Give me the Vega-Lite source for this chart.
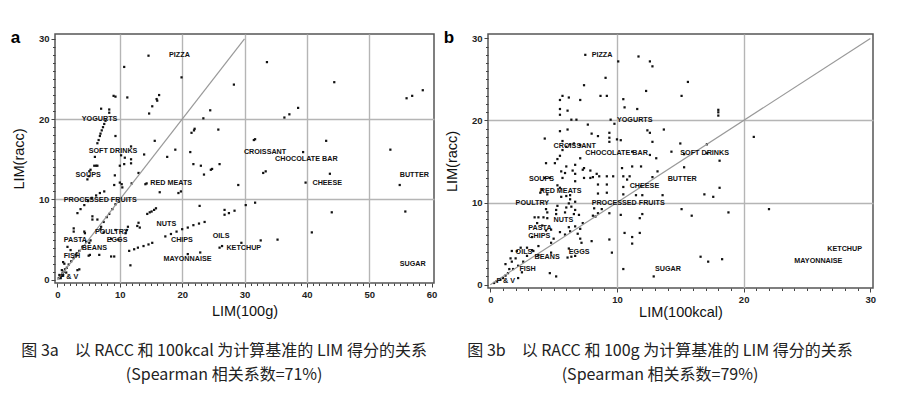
{
  "$schema": "https://vega.github.io/schema/vega-lite/v6.json",
  "background": "white",
  "padding": {"left": 10, "top": 28, "right": 0, "bottom": 0},
  "spacing": 5,
  "datasets": {
    "pa": [
      {"x":14.6,"y":27.9},{"x":10.7,"y":26.5},{"x":19.9,"y":25.2},{"x":33.6,"y":27.1},{"x":28.3,"y":24.3},{"x":44.4,"y":24.6},{"x":56.0,"y":22.6},{"x":56.9,"y":22.9},{"x":58.6,"y":23.6},
      {"x":9.0,"y":22.9},{"x":9.3,"y":22.8},{"x":11.2,"y":22.7},{"x":16.3,"y":23.0},{"x":15.9,"y":22.5},{"x":16.0,"y":22.3},{"x":15.2,"y":21.6},{"x":14.7,"y":20.7},
      {"x":7.0,"y":21.3},{"x":8.3,"y":21.2},{"x":8.3,"y":20.8},{"x":24.5,"y":21.1},{"x":23.4,"y":20.1},{"x":36.4,"y":20.2},{"x":37.2,"y":20.6},{"x":38.6,"y":21.4},
      {"x":9.3,"y":17.9},{"x":15.6,"y":17.3},{"x":17.6,"y":15.3},{"x":18.9,"y":16.2},{"x":21.5,"y":18.3},{"x":21.9,"y":18.6},{"x":22.0,"y":18.8},{"x":25.8,"y":18.7},
      {"x":21.3,"y":15.9},{"x":21.8,"y":14.4},{"x":23.0,"y":14.2},{"x":23.5,"y":13.1},{"x":24.6,"y":13.7},{"x":24.8,"y":13.8},{"x":26.0,"y":14.4},{"x":29.0,"y":11.8},
      {"x":30.2,"y":9.3},{"x":31.7,"y":9.6},{"x":31.5,"y":17.4},{"x":31.7,"y":17.5},{"x":33.0,"y":13.3},{"x":33.4,"y":13.5},{"x":39.4,"y":15.9},{"x":39.8,"y":12.1},
      {"x":43.1,"y":17.3},{"x":43.7,"y":13.2},{"x":44.0,"y":8.4},{"x":40.8,"y":5.9},{"x":35.3,"y":5.0},{"x":32.6,"y":4.9},{"x":29.5,"y":4.6},{"x":53.4,"y":16.2},
      {"x":54.9,"y":11.8},{"x":55.8,"y":8.5},{"x":28.4,"y":8.6},{"x":27.5,"y":8.3},{"x":26.8,"y":8.1},{"x":26.8,"y":8.7},{"x":26.0,"y":4.0},{"x":26.4,"y":4.2},
      {"x":22.9,"y":3.4},{"x":20.9,"y":3.2},{"x":22.8,"y":9.2},{"x":19.4,"y":10.8},{"x":19.8,"y":11.0},{"x":16.4,"y":10.9},{"x":14.3,"y":12.0},{"x":14.1,"y":11.9},
      {"x":13.9,"y":15.6},{"x":11.8,"y":16.6},{"x":11.8,"y":15.0},{"x":11.8,"y":14.5},{"x":10.2,"y":15.5},{"x":10.8,"y":15.2},{"x":10.0,"y":14.2},{"x":10.7,"y":14.4},
      {"x":13.0,"y":13.3},{"x":11.9,"y":12.0},{"x":9.2,"y":13.0},{"x":10.0,"y":12.1},{"x":10.3,"y":11.9},{"x":9.1,"y":11.8},{"x":10.4,"y":11.5},
      {"x":17.3,"y":5.4},{"x":18.2,"y":5.7},{"x":19.1,"y":6.0},{"x":20.0,"y":6.3},{"x":20.9,"y":6.5},{"x":21.8,"y":6.8},{"x":22.7,"y":7.0},{"x":23.6,"y":7.2},
      {"x":14.4,"y":8.2},{"x":14.8,"y":8.4},{"x":15.1,"y":8.5},{"x":15.5,"y":8.7},{"x":15.8,"y":8.9},
      {"x":12.8,"y":6.7},{"x":13.2,"y":6.5},{"x":13.0,"y":7.1},{"x":11.3,"y":6.6},{"x":11.1,"y":6.2},{"x":10.9,"y":5.8},{"x":9.8,"y":5.0},
      {"x":11.5,"y":3.6},{"x":12.3,"y":3.8},{"x":12.9,"y":4.0},{"x":13.8,"y":4.2},{"x":14.6,"y":4.4},{"x":15.2,"y":4.6},
      {"x":11.7,"y":1.8},{"x":8.6,"y":2.9},{"x":9.1,"y":2.9},{"x":5.2,"y":3.1},{"x":5.0,"y":3.0},{"x":3.5,"y":1.3},{"x":3.2,"y":1.2},
      {"x":6.4,"y":17.0},{"x":6.6,"y":17.4},{"x":6.8,"y":17.9},{"x":6.9,"y":18.2},{"x":7.1,"y":18.6},{"x":7.3,"y":19.0},{"x":7.5,"y":19.4},{"x":7.7,"y":19.8},
      {"x":6.0,"y":15.3},{"x":6.2,"y":14.2},{"x":5.9,"y":14.2},{"x":6.4,"y":14.2},{"x":5.1,"y":13.5},{"x":5.3,"y":13.7},{"x":4.8,"y":12.5},{"x":5.1,"y":12.9},
      {"x":3.2,"y":8.3},{"x":3.7,"y":8.8},{"x":4.3,"y":9.3},{"x":4.9,"y":9.8},{"x":5.5,"y":10.2},{"x":6.2,"y":10.5},{"x":6.8,"y":10.8},{"x":7.5,"y":11.0},
      {"x":2.6,"y":6.4},{"x":2.6,"y":6.0},{"x":5.6,"y":7.9},{"x":5.6,"y":7.5},{"x":6.4,"y":7.5},{"x":7.0,"y":6.6},{"x":6.9,"y":6.3},{"x":4.3,"y":6.0},{"x":4.4,"y":5.8},{"x":5.3,"y":4.9},{"x":5.1,"y":4.6},
      {"x":1.6,"y":4.1},{"x":2.1,"y":3.7},{"x":3.1,"y":3.3},{"x":2.9,"y":3.1},{"x":6.7,"y":3.1},
      {"x":8.3,"y":8.2},{"x":8.8,"y":8.8},{"x":9.3,"y":9.4},{"x":9.8,"y":9.7},{"x":7.9,"y":7.8},{"x":7.4,"y":7.2},{"x":8.6,"y":5.1},{"x":7.4,"y":5.9},{"x":9.3,"y":6.2},
      {"x":0.2,"y":0.2},{"x":0.4,"y":0.4},{"x":0.6,"y":0.5},{"x":0.8,"y":0.8},{"x":1.0,"y":1.0},{"x":1.2,"y":1.3},{"x":1.5,"y":1.5},{"x":1.8,"y":1.9},{"x":2.2,"y":2.3},{"x":2.6,"y":2.7},{"x":3.0,"y":3.0},{"x":3.5,"y":3.6},{"x":4.0,"y":4.1},{"x":4.6,"y":4.7},{"x":0.5,"y":0.2},{"x":0.9,"y":0.6},{"x":1.4,"y":0.9},{"x":0.3,"y":0.6},{"x":0.7,"y":1.2},{"x":1.1,"y":2.0},{"x":0.9,"y":2.2}
    ],
    "pb": [
      {"x":7.5,"y":28.0},{"x":11.7,"y":27.8},{"x":10.1,"y":27.2},{"x":12.6,"y":27.2},{"x":12.8,"y":26.6},{"x":9.1,"y":25.2},{"x":7.4,"y":24.3},{"x":15.6,"y":24.7},{"x":12.3,"y":23.6},{"x":15.1,"y":23.0},
      {"x":8.7,"y":23.0},{"x":9.2,"y":23.0},{"x":5.7,"y":23.0},{"x":5.5,"y":22.5},{"x":6.2,"y":22.8},{"x":7.1,"y":22.5},{"x":10.5,"y":22.6},{"x":10.6,"y":21.6},{"x":11.6,"y":21.4},{"x":5.5,"y":21.4},
      {"x":5.5,"y":20.7},{"x":6.1,"y":21.2},{"x":6.4,"y":20.1},{"x":6.8,"y":20.1},{"x":9.5,"y":20.1},{"x":9.8,"y":19.6},{"x":5.5,"y":18.7},{"x":6.1,"y":18.9},{"x":7.7,"y":19.5},{"x":8.0,"y":18.4},
      {"x":8.5,"y":18.1},{"x":9.4,"y":18.5},{"x":9.4,"y":17.9},{"x":9.4,"y":17.4},{"x":10.0,"y":17.7},{"x":10.3,"y":17.6},{"x":12.4,"y":18.8},{"x":12.6,"y":18.5},{"x":13.7,"y":18.9},{"x":12.8,"y":17.4},
      {"x":11.2,"y":16.2},{"x":12.6,"y":15.8},{"x":13.1,"y":15.4},{"x":14.3,"y":16.2},{"x":15.0,"y":17.2},{"x":15.3,"y":15.9},{"x":17.1,"y":17.1},{"x":17.1,"y":16.0},{"x":18.1,"y":15.1},{"x":18.0,"y":20.6},
      {"x":18.0,"y":21.0},{"x":18.0,"y":21.3},{"x":20.8,"y":18.0},{"x":22.0,"y":9.2},{"x":18.8,"y":8.8},{"x":18.1,"y":11.8},{"x":16.9,"y":11.0},{"x":17.6,"y":10.7},{"x":15.3,"y":14.3},{"x":15.1,"y":9.2},
      {"x":15.9,"y":8.4},{"x":16.6,"y":3.4},{"x":17.2,"y":2.8},{"x":18.3,"y":3.1},{"x":12.9,"y":1.0},{"x":10.5,"y":1.9},{"x":9.6,"y":3.9},{"x":9.4,"y":5.5},{"x":10.6,"y":6.3},{"x":11.2,"y":5.0},
      {"x":11.2,"y":5.8},{"x":11.8,"y":6.3},{"x":11.8,"y":8.1},{"x":12.0,"y":8.6},{"x":10.3,"y":8.5},{"x":9.4,"y":8.7},{"x":11.5,"y":10.9},{"x":12.0,"y":10.9},{"x":11.9,"y":12.0},{"x":12.8,"y":13.1},
      {"x":13.2,"y":13.8},{"x":13.6,"y":10.9},{"x":10.5,"y":11.0},{"x":10.5,"y":11.9},{"x":10.5,"y":13.2},{"x":11.0,"y":13.2},{"x":10.8,"y":12.8},{"x":10.4,"y":14.2},{"x":11.2,"y":14.4},{"x":11.9,"y":14.4},
      {"x":9.7,"y":13.2},{"x":9.2,"y":13.2},{"x":8.6,"y":13.2},{"x":8.5,"y":12.2},{"x":8.5,"y":11.1},{"x":9.2,"y":12.2},{"x":9.2,"y":11.2},{"x":8.1,"y":13.1},{"x":7.9,"y":13.9},{"x":7.9,"y":13.0},
      {"x":7.4,"y":13.0},{"x":7.4,"y":14.2},{"x":7.1,"y":15.4},{"x":7.3,"y":14.0},{"x":6.7,"y":13.5},{"x":6.7,"y":12.6},{"x":6.7,"y":14.6},{"x":6.0,"y":14.4},{"x":6.5,"y":13.9},{"x":5.9,"y":13.6},
      {"x":5.6,"y":13.8},{"x":5.7,"y":13.0},{"x":5.5,"y":11.8},{"x":5.3,"y":12.1},{"x":5.1,"y":14.8},{"x":5.3,"y":15.3},{"x":5.5,"y":15.7},{"x":4.4,"y":14.8},{"x":4.3,"y":13.0},{"x":4.7,"y":13.0},
      {"x":4.3,"y":17.8},{"x":5.7,"y":17.5},{"x":5.7,"y":16.4},{"x":6.0,"y":16.8},{"x":6.3,"y":17.1},{"x":6.6,"y":17.2},{"x":7.1,"y":17.0},{"x":4.1,"y":11.6},{"x":3.95,"y":11.2},{"x":4.5,"y":11.0},
      {"x":5.6,"y":10.7},{"x":6.0,"y":10.8},{"x":6.3,"y":10.9},{"x":6.3,"y":10.4},{"x":6.7,"y":10.1},{"x":6.4,"y":9.5},{"x":6.7,"y":9.1},{"x":6.6,"y":8.6},{"x":6.2,"y":9.9},{"x":6.0,"y":9.4},
      {"x":5.9,"y":8.8},{"x":5.3,"y":9.6},{"x":5.2,"y":8.6},{"x":5.2,"y":9.1},{"x":4.4,"y":9.2},{"x":4.5,"y":8.8},{"x":4.5,"y":8.1},{"x":3.8,"y":8.2},{"x":4.2,"y":8.2},{"x":3.5,"y":8.2},
      {"x":3.7,"y":7.5},{"x":4.1,"y":7.2},{"x":4.4,"y":6.6},{"x":4.8,"y":6.7},{"x":5.0,"y":5.6},{"x":5.5,"y":6.4},{"x":5.9,"y":6.1},{"x":6.2,"y":7.0},{"x":6.7,"y":7.1},{"x":7.1,"y":6.8},
      {"x":7.3,"y":7.5},{"x":6.9,"y":6.2},{"x":7.1,"y":5.6},{"x":7.2,"y":5.1},{"x":8.0,"y":5.3},{"x":6.2,"y":4.4},{"x":6.1,"y":3.3},{"x":6.4,"y":3.4},{"x":6.7,"y":3.5},{"x":4.8,"y":3.9},
      {"x":4.8,"y":5.1},{"x":3.8,"y":4.7},{"x":3.3,"y":5.8},{"x":4.7,"y":1.4},{"x":5.2,"y":1.0},{"x":8.2,"y":9.3},{"x":8.1,"y":8.4},{"x":8.5,"y":8.7},{"x":8.8,"y":9.2},{"x":8.3,"y":8.3},
      {"x":7.0,"y":8.5},{"x":6.3,"y":6.5},{"x":8.4,"y":13.5},
      {"x":0.3,"y":0.2},{"x":0.5,"y":0.4},{"x":0.8,"y":0.6},{"x":1.0,"y":0.8},{"x":1.4,"y":1.4},{"x":1.7,"y":2.8},{"x":1.6,"y":3.2},{"x":2.0,"y":3.2},{"x":1.7,"y":4.1},{"x":2.1,"y":4.1},
      {"x":2.4,"y":4.5},{"x":2.9,"y":4.5},{"x":3.4,"y":4.1},{"x":2.9,"y":3.5},{"x":3.3,"y":4.2},{"x":3.8,"y":3.6},{"x":1.5,"y":1.9},{"x":1.8,"y":1.9},{"x":2.2,"y":0.8},{"x":1.2,"y":1.1},
      {"x":2.2,"y":2.3},{"x":2.6,"y":2.8},{"x":1.2,"y":2.5},{"x":2.5,"y":1.5}
    ],
    "la": [
      {"x":17.9,"y":28.0,"t":"PIZZA"},{"x":3.9,"y":20.0,"t":"YOGURTS"},{"x":5.0,"y":16.0,"t":"SOFT DRINKS"},{"x":2.9,"y":13.0,"t":"SOUPS"},
      {"x":1.0,"y":9.9,"t":"PROCESSED FRUITS"},{"x":14.9,"y":12.0,"t":"RED MEATS"},{"x":15.9,"y":7.0,"t":"NUTS"},{"x":6.0,"y":6.0,"t":"POULTRY"},
      {"x":7.9,"y":4.9,"t":"EGGS"},{"x":1.0,"y":4.9,"t":"PASTA"},{"x":3.9,"y":3.9,"t":"BEANS"},{"x":1.0,"y":3.0,"t":"FISH"},{"x":0.4,"y":0.4,"t":"F & V"},
      {"x":18.2,"y":4.9,"t":"CHIPS"},{"x":24.9,"y":5.4,"t":"OILS"},{"x":27.1,"y":3.9,"t":"KETCHUP"},{"x":17.0,"y":2.6,"t":"MAYONNAISE"},
      {"x":29.9,"y":15.9,"t":"CROISSANT"},{"x":34.9,"y":15.0,"t":"CHOCOLATE BAR"},{"x":40.9,"y":12.0,"t":"CHEESE"},{"x":54.9,"y":13.0,"t":"BUTTER"},{"x":54.9,"y":1.95,"t":"SUGAR"}
    ],
    "lb": [
      {"x":8.0,"y":28.0,"t":"PIZZA"},{"x":10.0,"y":20.0,"t":"YOGURTS"},{"x":5.0,"y":16.9,"t":"CROISSANT"},{"x":7.5,"y":16.0,"t":"CHOCOLATE BAR"},
      {"x":15.0,"y":16.0,"t":"SOFT DRINKS"},{"x":3.05,"y":12.9,"t":"SOUPS"},{"x":14.0,"y":12.9,"t":"BUTTER"},{"x":11.0,"y":12.0,"t":"CHEESE"},
      {"x":3.9,"y":11.4,"t":"RED MEATS"},{"x":2.0,"y":9.9,"t":"POULTRY"},{"x":8.0,"y":9.9,"t":"PROCESSED FRUITS"},{"x":5.0,"y":7.9,"t":"NUTS"},
      {"x":3.0,"y":6.9,"t":"PASTA"},{"x":3.0,"y":5.9,"t":"CHIPS"},{"x":2.0,"y":4.0,"t":"OILS"},{"x":3.5,"y":3.4,"t":"BEANS"},{"x":6.2,"y":4.0,"t":"EGGS"},
      {"x":2.3,"y":1.9,"t":"FISH"},{"x":0.5,"y":0.5,"t":"F & V"},{"x":13.0,"y":1.9,"t":"SUGAR"},{"x":26.6,"y":4.4,"t":"KETCHUP"},{"x":24.0,"y":2.9,"t":"MAYONNAISE"}
    ],
    "diag": [{"x":0,"y":0},{"x":30,"y":30}]
  },
  "hconcat": [
    {
      "title": {"text": "a", "anchor": "start", "frame": "bounds", "orient": "top", "offset": -14, "fontSize": 17, "fontWeight": "bold", "font": "Liberation Sans", "color": "#000"},
      "vconcat": [
        {
          "width": 379,
          "height": 249,
          "title": {"text": ["图 3a　以 RACC 和 100kcal 为计算基准的 LIM 得分的关系", "(Spearman 相关系数=71%)"], "orient": "bottom", "anchor": "middle", "frame": "bounds", "offset": 25, "fontSize": 16, "fontWeight": "normal", "font": "Noto Sans CJK SC", "color": "#222", "lineHeight": 24},
          "layer": [
            {
              "data": {"name": "pa"},
              "mark": {"type": "square", "size": 5, "color": "#111", "opacity": 1},
              "encoding": {
                "x": {"field": "x", "type": "quantitative", "scale": {"domain": [-0.4, 60.4], "nice": false, "zero": false},
                  "axis": {"title": "LIM(100g)", "format": "d", "tickCount": 100, "values": [0,1,2,3,4,5,6,7,8,9,10,11,12,13,14,15,16,17,18,19,20,21,22,23,24,25,26,27,28,29,30,31,32,33,34,35,36,37,38,39,40,41,42,43,44,45,46,47,48,49,50,51,52,53,54,55,56,57,58,59,60],
                    "labelExpr": "datum.value % 10 === 0 ? datum.label : ''",
                    "gridOpacity": {"condition": {"test": "datum.value % 10 === 0 && datum.value > 0 && datum.value < 60", "value": 1}, "value": 0}}},
                "y": {"field": "y", "type": "quantitative", "scale": {"domain": [-0.4, 30.6], "nice": false, "zero": false},
                  "axis": {"title": "LIM(racc)", "format": "d", "tickCount": 100, "values": [0,1,2,3,4,5,6,7,8,9,10,11,12,13,14,15,16,17,18,19,20,21,22,23,24,25,26,27,28,29,30],
                    "labelExpr": "datum.value % 10 === 0 ? datum.label : ''",
                    "gridOpacity": {"condition": {"test": "datum.value % 10 === 0 && datum.value > 0 && datum.value < 30", "value": 1}, "value": 0}}}
              }
            },
            {
              "data": {"name": "diag"},
              "mark": {"type": "line", "color": "#999", "strokeWidth": 1.2},
              "encoding": {"x": {"field": "x", "type": "quantitative"}, "y": {"field": "y", "type": "quantitative"}}
            },
            {
              "data": {"name": "la"},
              "mark": {"type": "text", "align": "left", "baseline": "middle", "fontSize": 7.2, "fontWeight": "bold", "font": "Liberation Sans", "color": "#111"},
              "encoding": {"x": {"field": "x", "type": "quantitative"}, "y": {"field": "y", "type": "quantitative"}, "text": {"field": "t"}}
            }
          ]
        }
      ]
    },
    {
      "title": {"text": "b", "anchor": "start", "frame": "bounds", "orient": "top", "offset": -14, "fontSize": 17, "fontWeight": "bold", "font": "Liberation Sans", "color": "#000"},
      "vconcat": [
        {
          "width": 385,
          "height": 254,
          "title": {"text": ["图 3b　以 RACC 和 100g 为计算基准的 LIM 得分的关系", "(Spearman 相关系数=79%)"], "orient": "bottom", "anchor": "middle", "frame": "bounds", "offset": 24, "fontSize": 16, "fontWeight": "normal", "font": "Noto Sans CJK SC", "color": "#222", "lineHeight": 24},
          "layer": [
            {
              "data": {"name": "pb"},
              "mark": {"type": "square", "size": 5, "color": "#111", "opacity": 1},
              "encoding": {
                "x": {"field": "x", "type": "quantitative", "scale": {"domain": [-0.18, 30.21], "nice": false, "zero": false},
                  "axis": {"title": "LIM(100kcal)", "titlePadding": 2, "format": "d", "tickCount": 100, "values": [0,1,2,3,4,5,6,7,8,9,10,11,12,13,14,15,16,17,18,19,20,21,22,23,24,25,26,27,28,29,30],
                    "labelExpr": "datum.value % 10 === 0 ? datum.label : ''",
                    "gridOpacity": {"condition": {"test": "datum.value % 10 === 0 && datum.value > 0 && datum.value < 30", "value": 1}, "value": 0}}},
                "y": {"field": "y", "type": "quantitative", "scale": {"domain": [-0.41, 30.54], "nice": false, "zero": false},
                  "axis": {"title": "LIM(racc)", "format": "d", "tickCount": 100, "values": [0,1,2,3,4,5,6,7,8,9,10,11,12,13,14,15,16,17,18,19,20,21,22,23,24,25,26,27,28,29,30],
                    "labelExpr": "datum.value % 10 === 0 ? datum.label : ''",
                    "gridOpacity": {"condition": {"test": "datum.value % 10 === 0 && datum.value > 0 && datum.value < 30", "value": 1}, "value": 0}}}
              }
            },
            {
              "data": {"name": "diag"},
              "mark": {"type": "line", "color": "#999", "strokeWidth": 1.2},
              "encoding": {"x": {"field": "x", "type": "quantitative"}, "y": {"field": "y", "type": "quantitative"}}
            },
            {
              "data": {"name": "lb"},
              "mark": {"type": "text", "align": "left", "baseline": "middle", "fontSize": 7.2, "fontWeight": "bold", "font": "Liberation Sans", "color": "#111"},
              "encoding": {"x": {"field": "x", "type": "quantitative"}, "y": {"field": "y", "type": "quantitative"}, "text": {"field": "t"}}
            }
          ]
        }
      ]
    }
  ],
  "config": {
    "view": {"stroke": "#555", "strokeWidth": 1.5},
    "axis": {
      "domain": false,
      "grid": true,
      "gridColor": "#b5b5b5",
      "gridWidth": 1.4,
      "tickColor": "#444",
      "tickSize": {"condition": {"test": "datum.value % 10 === 0", "value": 4}, "value": 2.5},
      "tickWidth": 1,
      "labelFont": "Liberation Sans",
      "labelFontSize": 9.5,
      "labelFontWeight": "bold",
      "labelColor": "#222",
      "labelPadding": 2,
      "labelFlush": false,
      "labelOverlap": false,
      "titleFont": "Liberation Sans",
      "titleFontSize": 14.5,
      "titleFontWeight": "normal",
      "titleColor": "#111"
    },
    "axisX": {"titlePadding": 6},
    "axisY": {"titlePadding": 12}
  }
}
